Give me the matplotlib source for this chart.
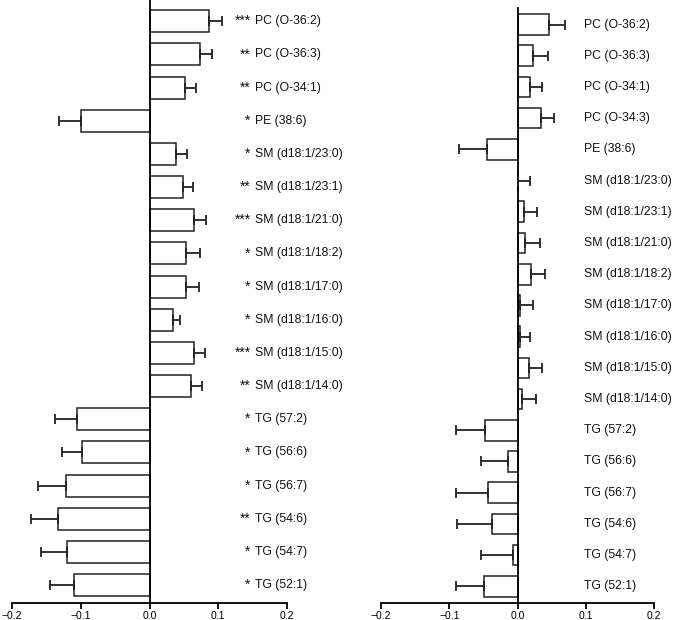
import numpy as np
import matplotlib.pyplot as plt

plt.rcParams['font.family'] = ['Liberation Sans', 'DejaVu Sans']

# Left panel (with significance stars)
left_labels = ["*** PC (O-36:2)", "** PC (O-36:3)", "** PC (O-34:1)", "* PE (38:6)",
               "* SM (d18:1/23:0)", "** SM (d18:1/23:1)", "*** SM (d18:1/21:0)",
               "* SM (d18:1/18:2)", "* SM (d18:1/17:0)", "* SM (d18:1/16:0)",
               "*** SM (d18:1/15:0)", "** SM (d18:1/14:0)", "* TG (57:2)", "* TG (56:6)",
               "* TG (56:7)", "** TG (54:6)", "* TG (54:7)", "* TG (52:1)"]
left_values = [0.087, 0.073, 0.052, -0.099, 0.039, 0.049, 0.065, 0.053, 0.053, 0.034,
               0.065, 0.061, -0.105, -0.098, -0.121, -0.133, -0.120, -0.110]
left_errors = [0.019, 0.018, 0.015, 0.032, 0.015, 0.014, 0.017, 0.020, 0.019, 0.011,
               0.016, 0.016, 0.033, 0.030, 0.041, 0.040, 0.038, 0.034]

# Right panel
right_labels = ["PC (O-36:2)", "PC (O-36:3)", "PC (O-34:1)", "PC (O-34:3)", "PE (38:6)",
                "SM (d18:1/23:0)", "SM (d18:1/23:1)", "SM (d18:1/21:0)", "SM (d18:1/18:2)",
                "SM (d18:1/17:0)", "SM (d18:1/16:0)", "SM (d18:1/15:0)", "SM (d18:1/14:0)",
                "TG (57:2)", "TG (56:6)", "TG (56:7)", "TG (54:6)", "TG (54:7)", "TG (52:1)"]
right_values = [0.046, 0.022, 0.019, 0.034, -0.044, 0.0005, 0.010, 0.011, 0.020, 0.003,
                0.004, 0.017, 0.007, -0.048, -0.014, -0.043, -0.038, -0.006, -0.049]
right_errors = [0.024, 0.022, 0.017, 0.020, 0.042, 0.018, 0.019, 0.022, 0.021, 0.019,
                0.014, 0.019, 0.020, 0.042, 0.040, 0.047, 0.050, 0.048, 0.041]

xticks = [-0.2, -0.1, 0.0, 0.1, 0.2]


def draw_panel(ax, labels, values, errors, ylim, label_x, fs):
    n = len(labels)
    y = np.arange(n)[::-1]
    values = np.array(values)
    errors = np.array(errors)
    ax.barh(y, values, height=0.66, color='white', edgecolor='#222222', linewidth=1.1, zorder=2)
    # one-sided error bars, pointing away from zero
    lower = np.where(values < 0, errors, 0)
    upper = np.where(values >= 0, errors, 0)
    ax.errorbar(values, y, xerr=[lower, upper], fmt='none', ecolor='#222222',
                elinewidth=1.3, capsize=3.6, capthick=1.3, zorder=3)
    for yi, lab in zip(y, labels):
        if lab.startswith('*'):
            stars, name = lab.split(' ', 1)
            ax.text(label_x - 0.006, yi, stars, ha='right', va='center', fontsize=fs + 1,
                    color='#111111', clip_on=False)
            ax.text(label_x, yi, name, ha='left', va='center', fontsize=fs,
                    color='#111111', clip_on=False)
        else:
            ax.text(label_x, yi, lab, ha='left', va='center', fontsize=fs,
                    color='#111111', clip_on=False)
    ax.set_xlim(-0.2, 0.2)
    ax.set_ylim(*ylim)
    ax.spines['top'].set_visible(False)
    ax.spines['right'].set_visible(False)
    ax.spines['left'].set_position(('data', 0))
    ax.spines['left'].set_linewidth(1.3)
    ax.spines['bottom'].set_linewidth(1.3)
    ax.set_yticks([])
    ax.set_xticks(xticks)
    ax.set_xticklabels(['\u22120.2', '\u22120.1', '0.0', '0.1', '0.2'], fontsize=7.5)
    ax.tick_params(axis='x', length=4, width=1.3, pad=2)


fig = plt.figure(figsize=(6.74, 6.20), dpi=100)
ax1 = fig.add_axes([12 / 674, 17 / 620, 275 / 674, 603 / 620])
ax2 = fig.add_axes([381 / 674, 17 / 620, 273 / 674, 595 / 620])

draw_panel(ax1, left_labels, left_values, left_errors, (-0.54, 17.64), 0.153, 8.8)
draw_panel(ax2, right_labels, right_values, right_errors, (-0.535, 18.53), 0.098, 8.8)

fig.savefig('out.png', dpi=100)
